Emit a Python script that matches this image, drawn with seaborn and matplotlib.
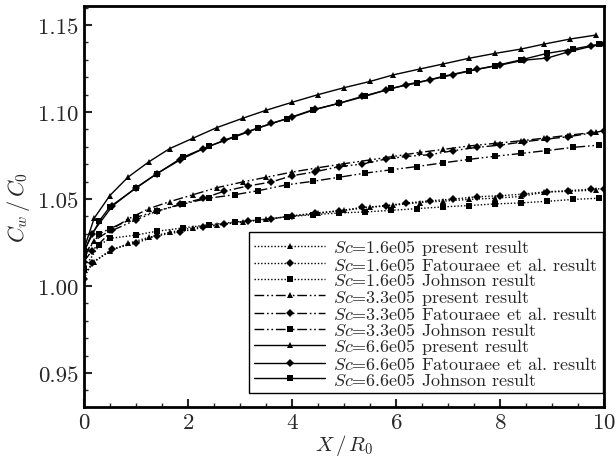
import matplotlib
matplotlib.use("Agg")
import matplotlib.pyplot as plt
import seaborn as sns
import pandas as pd

# ---- data ----
x_present = [0, 0.2, 0.5, 0.85, 1.25, 1.65, 2.1, 2.55, 3.05, 3.5, 4.0, 4.5, 5.0,
             5.5, 5.95, 6.45, 6.9, 7.4, 7.9, 8.4, 8.85, 9.35, 9.85]
x_fatouraee = [0, 0.15, 0.55, 1.0, 1.4, 1.85, 2.3, 2.7, 3.15, 3.6, 4.0, 4.45, 4.9,
               5.35, 5.8, 6.2, 6.65, 7.1, 7.55, 8.0, 8.45, 8.9, 9.3, 9.75, 10.0]
x_johnson = [0, 0.3, 0.5, 1.0, 1.4, 1.9, 2.4, 2.9, 3.35, 3.9, 4.4, 4.9, 5.4, 5.9,
             6.4, 6.9, 7.4, 7.9, 8.4, 8.9, 9.4, 9.9]

sc16_present = [1.006, 1.014, 1.020, 1.0245, 1.028, 1.0309, 1.0335, 1.0352, 1.037,
                1.0385, 1.0402, 1.0418, 1.0435, 1.0452, 1.0465, 1.048, 1.0488, 1.0498,
                1.0505, 1.0515, 1.054, 1.0545, 1.0552]
sc16_fatouraee = [1.004, 1.0132, 1.0213, 1.0247, 1.0289, 1.0312, 1.0337, 1.0356, 1.0372,
                  1.0385, 1.0404, 1.042, 1.0433, 1.0452, 1.0462, 1.0477, 1.049, 1.050,
                  1.0513, 1.0519, 1.0529, 1.0542, 1.0548, 1.0557, 1.056]
sc16_johnson = [1.010, 1.0235, 1.0274, 1.0293, 1.0315, 1.0334, 1.0352, 1.0368, 1.038,
                1.0398, 1.041, 1.042, 1.0426, 1.0435, 1.0445, 1.0455, 1.0463, 1.0472,
                1.0478, 1.0487, 1.0498, 1.0505]

sc33_present = [1.018, 1.026, 1.032, 1.0385, 1.0445, 1.0485, 1.0525, 1.0565, 1.0598,
                1.0625, 1.0655, 1.068, 1.0703, 1.0725, 1.0745, 1.0768, 1.0785, 1.0805,
                1.082, 1.0835, 1.085, 1.0868, 1.0885]
sc33_fatouraee = [1.014, 1.020, 1.032, 1.038, 1.043, 1.047, 1.0505, 1.0545, 1.0575,
                  1.0598, 1.0634, 1.0657, 1.0686, 1.0701, 1.073, 1.0745, 1.0755, 1.0778,
                  1.0797, 1.081, 1.0829, 1.0845, 1.0858, 1.0879, 1.0893]
sc33_johnson = [1.017, 1.030, 1.033, 1.0395, 1.043, 1.0471, 1.0505, 1.0525, 1.0548,
                1.0582, 1.0602, 1.0625, 1.0649, 1.0668, 1.0687, 1.0708, 1.0728, 1.0746,
                1.0762, 1.0779, 1.0797, 1.081]

sc66_present = [1.021, 1.039, 1.052, 1.0626, 1.0714, 1.079, 1.085, 1.091, 1.0964,
                1.101, 1.1056, 1.110, 1.114, 1.1176, 1.1214, 1.1247, 1.1276, 1.1309,
                1.1337, 1.1362, 1.1391, 1.142, 1.1443]
sc66_fatouraee = [1.019, 1.030, 1.046, 1.0565, 1.0645, 1.0725, 1.079, 1.0838, 1.0888,
                  1.0935, 1.097, 1.1015, 1.105, 1.109, 1.1125, 1.1158, 1.1185, 1.1215,
                  1.1245, 1.127, 1.1298, 1.131, 1.1345, 1.1378, 1.1392]
sc66_johnson = [1.020, 1.0375, 1.0455, 1.0562, 1.0645, 1.074, 1.0803, 1.0857, 1.0908,
                1.0962, 1.1013, 1.105, 1.109, 1.1136, 1.1167, 1.1205, 1.1237, 1.1266,
                1.13, 1.1337, 1.1362, 1.139]

sc_labels = ["1.6e05", "3.3e05", "6.6e05"]
source_labels = ["present result", "Fatouraee et al. result", "Johnson result"]

# ---- style ----
sns.set_style("ticks")
plt.rcParams["font.family"] = ["cmr10", "DejaVu Serif"]
plt.rcParams["mathtext.fontset"] = "cm"
plt.rcParams["axes.formatter.use_mathtext"] = True
plt.rcParams["axes.unicode_minus"] = False

fig = plt.figure(figsize=(6.16, 4.6), dpi=100)
ax = fig.add_axes([0.136, 0.113, 0.845, 0.872])

line_styles = {
    "1.6e05": (0, (1, 1.4)),
    "3.3e05": (0, (7, 2, 1.2, 2, 1.2, 2)),
    "6.6e05": "-",
}
markers = {"present result": "^", "Fatouraee et al. result": "D", "Johnson result": "s"}
msizes = {"present result": 4.8, "Fatouraee et al. result": 4.3, "Johnson result": 4.5}

series = [
    ("1.6e05", "present result", x_present, sc16_present),
    ("1.6e05", "Fatouraee et al. result", x_fatouraee, sc16_fatouraee),
    ("1.6e05", "Johnson result", x_johnson, sc16_johnson),
    ("3.3e05", "present result", x_present, sc33_present),
    ("3.3e05", "Fatouraee et al. result", x_fatouraee, sc33_fatouraee),
    ("3.3e05", "Johnson result", x_johnson, sc33_johnson),
    ("6.6e05", "present result", x_present, sc66_present),
    ("6.6e05", "Fatouraee et al. result", x_fatouraee, sc66_fatouraee),
    ("6.6e05", "Johnson result", x_johnson, sc66_johnson),
]

for sc, src, xs, ys in series:
    df = pd.DataFrame({"x": xs, "y": ys})
    sns.lineplot(data=df, x="x", y="y", ax=ax, color="black", sort=False,
                 linestyle=line_styles[sc], linewidth=1.0,
                 marker=markers[src], markersize=msizes[src],
                 markeredgewidth=0, markerfacecolor="black",
                 label=f"$Sc$={sc} {src}")

ax.set_xlim(0, 10)
ax.set_ylim(0.9305, 1.161)
ax.set_xticks([0, 2, 4, 6, 8, 10])
ax.set_yticks([0.95, 1.00, 1.05, 1.10, 1.15])
ax.set_yticklabels(["0.95", "1.00", "1.05", "1.10", "1.15"])
ax.set_xticks([0.5 * i for i in range(21)], minor=True)
ax.set_yticks([0.94 + 0.01 * i for i in range(23)], minor=True)
ax.tick_params(which="major", direction="in", length=6, width=1.5, labelsize=16.5,
               top=False, right=False, pad=4)
ax.tick_params(which="minor", direction="in", length=3, width=1.0,
               top=False, right=False)
for s in ax.spines.values():
    s.set_linewidth(2.0)
    s.set_color("black")

ax.set_xlabel("$X\\,/\\,R_0$", fontsize=15, labelpad=0)
ax.set_ylabel("$C_w\\,/\\,C_0$", fontsize=16, labelpad=4)

leg = ax.legend(loc="lower right", bbox_to_anchor=(0.997, 0.035), borderaxespad=0,
                fontsize=13, frameon=True, fancybox=False, framealpha=1,
                edgecolor="black", handlelength=3.9, handletextpad=0.45,
                labelspacing=-0.08, borderpad=0.3)
leg.get_frame().set_linewidth(1.0)

fig.savefig("out.png", dpi=100)
